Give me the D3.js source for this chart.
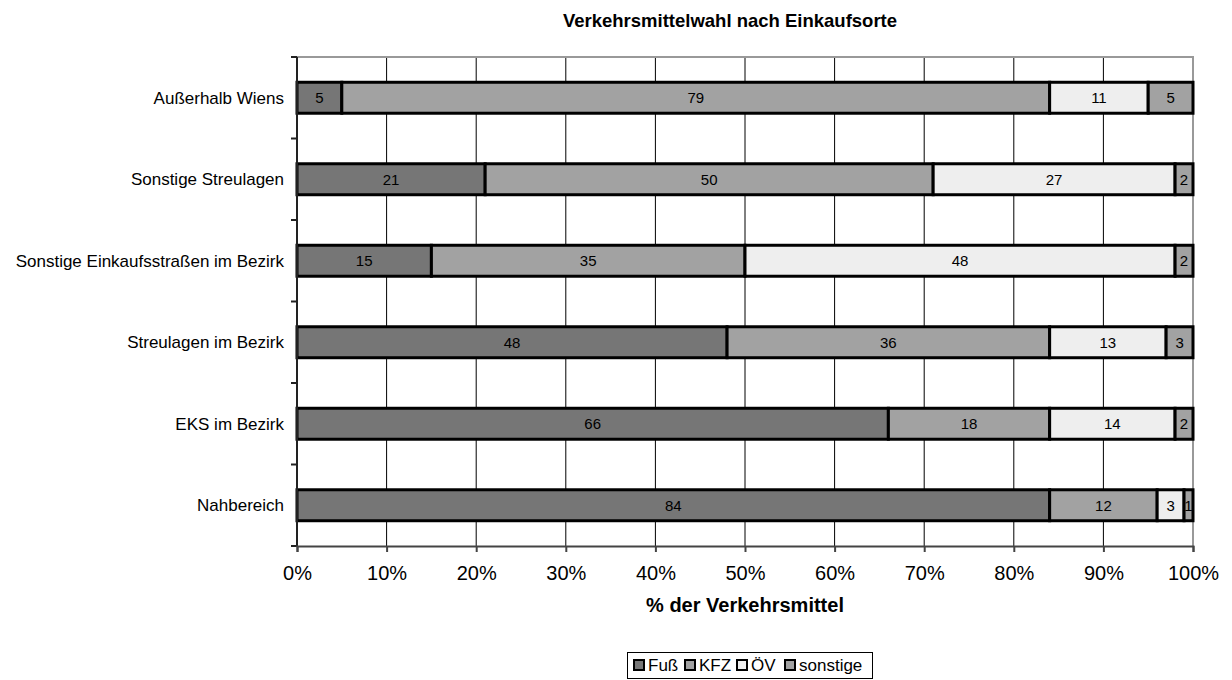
<!DOCTYPE html>
<html>
<head>
<meta charset="utf-8">
<script src="https://cdn.jsdelivr.net/npm/d3@7"></script>
<style>
  html, body { margin: 0; padding: 0; background: #fff; }
  svg { display: block; font-family: Arial, "Liberation Sans", sans-serif; }
</style>
</head>
<body>
<svg id="chart" width="1232" height="680"></svg>
<script>
// Shopping locations (top to bottom) and mode shares in percent
const categories = [
  "Außerhalb Wiens",
  "Sonstige Streulagen",
  "Sonstige Einkaufsstraßen im Bezirk",
  "Streulagen im Bezirk",
  "EKS im Bezirk",
  "Nahbereich"
];
const seriesNames = ["Fuß", "KFZ", "ÖV", "sonstige"];
const fuss     = [5, 21, 15, 48, 66, 84];
const kfz      = [79, 50, 35, 36, 18, 12];
const oev      = [11, 27, 48, 13, 14, 3];
const sonstige = [5, 2, 2, 3, 2, 1];
const xTicks = [0, 10, 20, 30, 40, 50, 60, 70, 80, 90, 100];

const colors = ["#767676", "#a2a2a2", "#eeeeee", "#a2a2a2"];

const svg = d3.select("#chart");
const margin = { left: 297, right: 1193, top: 57, bottom: 546 };

const x = d3.scaleLinear().domain([0, 100]).range([margin.left, margin.right]);
const y = d3.scaleBand().domain(categories).range([margin.top, margin.bottom])
  .paddingInner(0.62).paddingOuter(0.31);

const rows = categories.map((c, i) => ({ cat: c, values: [fuss[i], kfz[i], oev[i], sonstige[i]] }));
const stack = d3.stack().keys([0, 1, 2, 3]).value((d, k) => d.values[k]);
const layers = stack(rows);

// Title
svg.append("text")
  .attr("x", 730).attr("y", 27)
  .attr("text-anchor", "middle")
  .attr("font-weight", "bold").attr("font-size", 18.5)
  .text("Verkehrsmittelwahl nach Einkaufsorte");

// Vertical gridlines
svg.append("g").selectAll("line").data(xTicks.slice(1, -1)).join("line")
  .attr("x1", d => x(d)).attr("x2", d => x(d))
  .attr("y1", margin.top).attr("y2", margin.bottom)
  .attr("stroke", "#000").attr("stroke-width", 1);

// Plot frame (top and right in gray)
svg.append("path")
  .attr("d", `M${margin.left},${margin.top}H${margin.right}V${margin.bottom}`)
  .attr("fill", "none").attr("stroke", "#999").attr("stroke-width", 2);

// Bars
layers.forEach((layer, k) => {
  const g = svg.append("g");
  g.selectAll("rect").data(layer).join("rect")
    .attr("x", d => x(d[0]))
    .attr("y", d => y(d.data.cat))
    .attr("width", d => x(d[1]) - x(d[0]))
    .attr("height", y.bandwidth())
    .attr("fill", colors[k])
    .attr("stroke", "#000").attr("stroke-width", 3);
});

// Value labels
layers.forEach((layer, k) => {
  svg.append("g").selectAll("text").data(layer).join("text")
    .attr("x", d => (x(d[0]) + x(d[1])) / 2)
    .attr("y", d => y(d.data.cat) + y.bandwidth() / 2)
    .attr("dy", "0.36em")
    .attr("text-anchor", "middle")
    .attr("font-size", 15)
    .text(d => d.data.values[k]);
});

// Y axis: line, ticks between categories, labels
svg.append("line")
  .attr("x1", margin.left).attr("x2", margin.left)
  .attr("y1", margin.top).attr("y2", margin.bottom)
  .attr("stroke", "#222").attr("stroke-width", 2);
const bounds = d3.range(categories.length + 1).map(i => margin.top + i * y.step());
svg.append("g").selectAll("line").data(bounds).join("line")
  .attr("x1", margin.left - 6).attr("x2", margin.left)
  .attr("y1", d => d).attr("y2", d => d)
  .attr("stroke", "#222").attr("stroke-width", 2);
svg.append("g").selectAll("text").data(categories).join("text")
  .attr("x", 284)
  .attr("y", d => y(d) + y.bandwidth() / 2)
  .attr("dy", "0.36em")
  .attr("text-anchor", "end")
  .attr("font-size", 17)
  .text(d => d);

// X axis
const xAxis = svg.append("g")
  .attr("transform", `translate(0,${margin.bottom})`)
  .call(d3.axisBottom(x).tickValues(xTicks).tickFormat(d => d + "%").tickSize(6).tickPadding(14));
xAxis.select(".domain").attr("stroke", "#444").attr("stroke-width", 2);
xAxis.selectAll(".tick line").attr("stroke", "#444").attr("stroke-width", 2);
xAxis.selectAll(".tick text")
  .attr("font-size", 20).attr("font-family", "Arial, 'Liberation Sans', sans-serif").attr("fill", "#000");

svg.append("text")
  .attr("x", 745).attr("y", 612)
  .attr("text-anchor", "middle")
  .attr("font-weight", "bold").attr("font-size", 20)
  .text("% der Verkehrsmittel");

// Legend
const legend = svg.append("g");
legend.append("rect")
  .attr("x", 627.5).attr("y", 652.5).attr("width", 245).attr("height", 26)
  .attr("fill", "#fff").attr("stroke", "#000").attr("stroke-width", 1);
const legendX = [634, 685, 737, 785];
seriesNames.forEach((name, k) => {
  legend.append("rect")
    .attr("x", legendX[k]).attr("y", 660).attr("width", 10).attr("height", 10)
    .attr("fill", colors[k]).attr("stroke", "#000").attr("stroke-width", 2);
  legend.append("text")
    .attr("x", legendX[k] + 14).attr("y", 671)
    .attr("font-size", 17)
    .text(name);
});
</script>
</body>
</html>
